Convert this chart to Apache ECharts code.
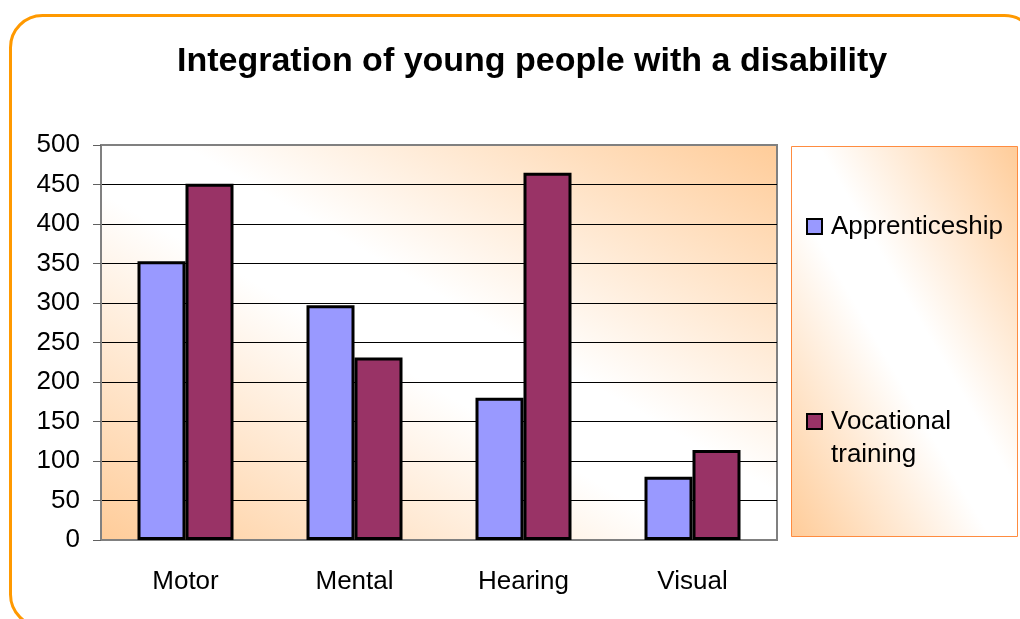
<!DOCTYPE html>
<html>
<head>
<meta charset="utf-8">
<script src="https://cdn.jsdelivr.net/npm/echarts@6/dist/echarts.min.js"></script>
<style>
  html, body { margin: 0; padding: 0; background: #fff; }
  #chart { width: 1020px; height: 619px; }
</style>
</head>
<body>
<div id="chart"></div>
<script>
const categories = ['Motor', 'Mental', 'Hearing', 'Visual']
const apprenticeship = [353, 297, 180, 80]
const vocational = [451, 231, 465, 114]
const seriesNames = ['Apprenticeship', 'Vocational training']

const font = '"Liberation Sans", Arial, sans-serif'
const orange = '#FFCC99'

// orange corners (bottom-left, top-right), white along the other diagonal
// global coords so the white band runs corner to corner
function diagFill(x, y, w, h) {
  const len = Math.sqrt(w * w + h * h)
  const ux = h / len, uy = -w / len
  const cx = x + w / 2, cy = y + h / 2
  const d = (w / 2) * ux + (-h / 2) * uy
  return new echarts.graphic.LinearGradient(
    cx - d * ux, cy - d * uy, cx + d * ux, cy + d * uy,
    [
      { offset: 0, color: orange },
      { offset: 0.44, color: '#ffffff' },
      { offset: 0.56, color: '#ffffff' },
      { offset: 1, color: orange }
    ],
    true
  )
}

const chart = echarts.init(document.getElementById('chart'))

chart.setOption({
  animation: false,
  textStyle: { fontFamily: font },
  title: {
    text: 'Integration of young people with a disability',
    left: 177,
    top: 45,
    padding: 0,
    textStyle: { fontSize: 34, fontWeight: 'bold', color: '#000', fontFamily: font }
  },
  graphic: [
    {
      type: 'rect',
      z: -1,
      shape: { x: 10.5, y: 15.5, width: 1026, height: 611, r: 32 },
      style: { fill: 'none', stroke: '#FF9900', lineWidth: 3 }
    },
    {
      type: 'rect',
      z: -1,
      shape: { x: 791.5, y: 146.5, width: 226, height: 390 },
      style: { fill: diagFill(791.5, 146.5, 226, 390), stroke: '#FF8C40', lineWidth: 1 }
    }
  ],
  legend: [
    {
      data: [seriesNames[0]],
      orient: 'vertical',
      left: 806,
      top: 210,
      padding: 0,
      icon: 'rect',
      itemWidth: 15,
      itemHeight: 15,
      textStyle: { fontSize: 26, color: '#000', lineHeight: 33, padding: [0, 0, 0, 4] }
    },
    {
      data: [seriesNames[1]],
      orient: 'vertical',
      left: 806,
      top: 372,
      padding: 0,
      icon: 'rect',
      itemWidth: 15,
      itemHeight: 15,
      // blank first line keeps the icon level with "Vocational"
      formatter: function (name) { return '\u00a0\n' + name.replace(' ', '\n') },
      textStyle: { fontSize: 26, color: '#000', lineHeight: 33, padding: [0, 0, 0, 4] }
    }
  ],
  grid: {
    left: 101,
    top: 145,
    width: 676,
    height: 395,
    show: true,
    backgroundColor: diagFill(101, 145, 676, 395),
    borderColor: '#808080',
    borderWidth: 2
  },
  xAxis: {
    type: 'category',
    data: categories,
    axisLine: { lineStyle: { color: '#808080', width: 2 } },
    axisTick: { length: 8, lineStyle: { color: '#606060', width: 1 } },
    axisLabel: { color: '#000', fontSize: 26, margin: 29 }
  },
  yAxis: {
    type: 'value',
    min: 0,
    max: 500,
    interval: 50,
    axisLine: { show: true, lineStyle: { color: '#808080', width: 2 } },
    axisTick: { show: true, length: 8, lineStyle: { color: '#606060', width: 1 } },
    axisLabel: { color: '#000', fontSize: 26, margin: 21, padding: [6, 0, 0, 0] },
    splitLine: { lineStyle: { color: ['#000', '#000', '#000', '#000', '#000', '#000', '#000', '#000', '#000', '#000', '#808080'], width: 1 } }
  },
  series: [
    {
      name: seriesNames[0],
      type: 'bar',
      data: apprenticeship,
      barWidth: 48,
      barGap: '0%',
      itemStyle: { color: '#9999FF', borderColor: '#000', borderWidth: 3 }
    },
    {
      name: seriesNames[1],
      type: 'bar',
      data: vocational,
      barWidth: 48,
      barGap: '0%',
      itemStyle: { color: '#993366', borderColor: '#000', borderWidth: 3 }
    }
  ]
})
</script>
</body>
</html>
